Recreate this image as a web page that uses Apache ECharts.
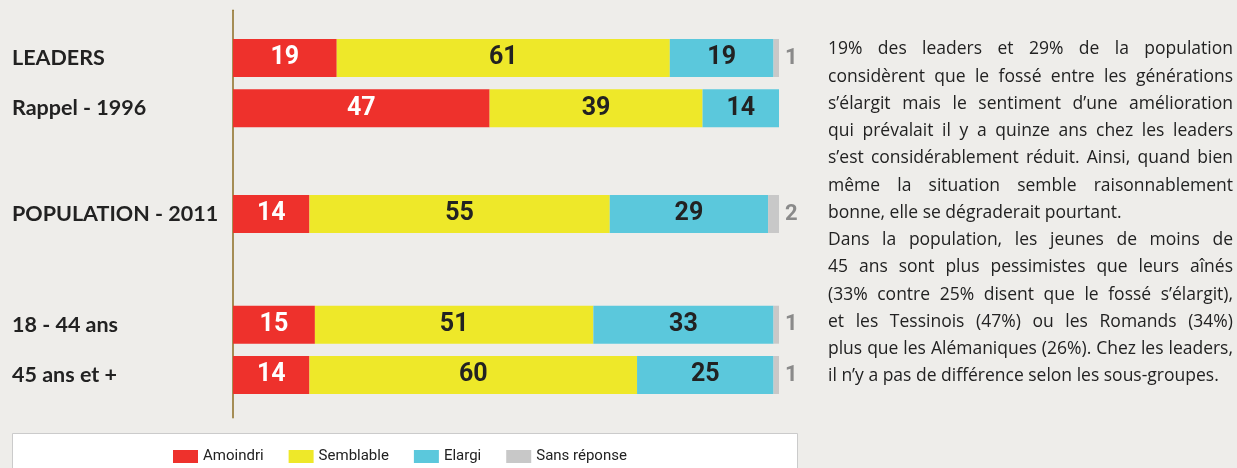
<!DOCTYPE html>
<html>
<head>
<meta charset="utf-8">
<script src="https://cdn.jsdelivr.net/npm/echarts@6/dist/echarts.min.js"></script>
<style>
  html, body { margin: 0; padding: 0; background: #eeedea; }
  #wrap { position: relative; width: 1237px; height: 468px; }
  #chart { width: 1237px; height: 468px; }
  #note {
    position: absolute; left: 828px; top: 34.4px; width: 405px;
    font-family: 'Open Sans', sans-serif; font-size: 17.5px; line-height: 27.25px;
    color: #222;
  }
  #note div { white-space: nowrap; text-align: justify; text-align-last: justify; }
  #note div.end { text-align-last: left; }
</style>
</head>
<body>
<div id="wrap">
  <div id="chart"></div>
  <div id="note"></div>
</div>
<script>
// values (percent)
const categories = ['LEADERS', 'Rappel - 1996', 'POPULATION - 2011', '18 - 44 ans', '45 ans et +'];
const amoindri = [19, 47, 14, 15, 14];
const semblable = [61, 39, 55, 51, 60];
const elargi = [19, 14, 29, 33, 25];
const sansReponse = [1, 0, 2, 1, 1];
const seriesNames = ['Amoindri', 'Semblable', 'Elargi', 'Sans réponse'];

const paragraph = [
  '19% des leaders et 29% de la population',
  'considèrent que le fossé entre les générations',
  's’élargit mais le sentiment d’une amélioration',
  'qui prévalait il y a quinze ans chez les leaders',
  's’est considérablement réduit. Ainsi, quand bien',
  'même la situation semble raisonnablement',
  'bonne, elle se dégraderait pourtant.',
  'Dans la population, les jeunes de moins de',
  '45 ans sont plus pessimistes que leurs aînés',
  '(33% contre 25% disent que le fossé s’élargit),',
  'et les Tessinois (47%) ou les Romands (34%)',
  'plus que les Alémaniques (26%). Chez les leaders,',
  'il n’y a pas de différence selon les sous-groupes.'
];
const paragraphEnds = [6, 12];

// layout: rows sit on a fine category axis so the gaps between groups match
const SLOTS = 81;
const rowSlot = [9, 19, 40, 62, 72];

const slotLabels = new Array(SLOTS).fill('');
rowSlot.forEach((s, i) => { slotLabels[s] = categories[i]; });

function toSlots(values) {
  const out = new Array(SLOTS).fill('-');
  rowSlot.forEach((s, i) => { out[s] = values[i]; });
  return out;
}

const colors = ['#ee312c', '#eee829', '#5bc8dc', '#c8c8c8'];
const numFont = "'Roboto', 'Noto Sans', sans-serif";

function barSeries(name, values, color, labelColor) {
  return {
    name: name,
    type: 'bar',
    stack: 'total',
    barWidth: 38,
    itemStyle: { color: color },
    label: {
      show: true,
      position: 'inside',
      color: labelColor,
      fontFamily: numFont,
      fontWeight: 'bold',
      fontSize: 25
    },
    data: toSlots(values)
  };
}

const series = [
  barSeries(seriesNames[0], amoindri, colors[0], '#ffffff'),
  barSeries(seriesNames[1], semblable, colors[1], '#222222'),
  barSeries(seriesNames[2], elargi, colors[2], '#222222'),
  {
    name: seriesNames[3],
    type: 'bar',
    stack: 'total',
    barWidth: 38,
    itemStyle: { color: colors[3] },
    label: {
      show: true,
      position: 'right',
      distance: 6,
      color: '#8a8a8a',
      fontFamily: numFont,
      fontWeight: 'bold',
      fontSize: 22,
      formatter: p => (p.value ? p.value : '')
    },
    data: toSlots(sansReponse)
  }
];

const note = document.getElementById('note');
paragraph.forEach((line, i) => {
  const d = document.createElement('div');
  d.textContent = line;
  if (paragraphEnds.indexOf(i) >= 0) d.className = 'end';
  note.appendChild(d);
});

const chart = echarts.init(document.getElementById('chart'));
chart.setOption({
  backgroundColor: '#eeedea',
  animation: false,
  grid: { left: 233, width: 546, top: 10.2, height: 407.6 },
  xAxis: { type: 'value', min: 0, max: 100, show: false },
  yAxis: {
    type: 'category',
    inverse: true,
    data: slotLabels,
    axisTick: { show: false },
    axisLine: { lineStyle: { color: '#8c6d23', width: 1.5 } },
    axisLabel: {
      interval: 0,
      margin: 221,
      align: 'left',
      color: '#222222',
      fontFamily: "'Lato', sans-serif",
      fontWeight: 'bold',
      fontSize: 21.5
    }
  },
  legend: {
    left: 173,
    top: 449,
    padding: 0,
    itemWidth: 25,
    itemHeight: 13,
    itemGap: 25,
    icon: 'rect',
    data: seriesNames,
    textStyle: { color: '#222222', fontFamily: "'Roboto', sans-serif", fontSize: 15 }
  },
  graphic: [
    {
      type: 'rect',
      z: -1,
      shape: { x: 12.5, y: 433.5, width: 785, height: 40 },
      style: { fill: '#ffffff', stroke: '#cbcbcb', lineWidth: 1 }
    }
  ],
  series: series
});
</script>
</body>
</html>
